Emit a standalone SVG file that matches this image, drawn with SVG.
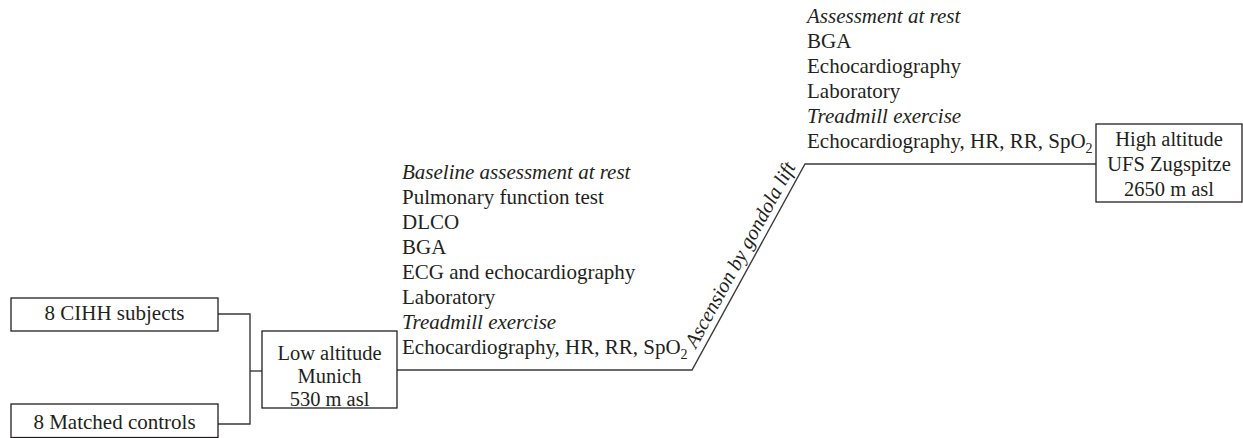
<svg xmlns="http://www.w3.org/2000/svg" width="1243" height="438" viewBox="0 0 1243 438">
<style>
text{font-family:"Liberation Serif","Times New Roman",serif;font-size:21px;fill:#231f20}
.c{text-anchor:middle}
.i{font-style:italic}
.b{font-size:20.5px}
.box{fill:#fff;stroke:#231f20;stroke-width:1.3}
.ln{fill:none;stroke:#3a3a3a;stroke-width:1.4}
</style>
<rect width="1243" height="438" fill="#fff"/>
<g id="connectors">
<polyline class="ln" points="218,314 250,314 250,424 218,424"/>
<line class="ln" x1="250" y1="371" x2="262" y2="371"/>
<polyline class="ln" points="397,370 692,370 805,164 1096,164"/>
<text class="i b" transform="translate(696,349) rotate(-61.25)">Ascension by gondola lift</text>
</g>
<g id="cihh">
<rect class="box" x="11" y="298" width="207" height="33"/>
<text class="c" x="114.5" y="320">8 CIHH subjects</text>
</g>
<g id="controls">
<rect class="box" x="11" y="404" width="207" height="33.5"/>
<text class="c" x="114.5" y="429">8 Matched controls</text>
</g>
<g id="low">
<rect class="box" x="262" y="331" width="135" height="77"/>
<text class="c b" x="329.5" y="360">Low altitude</text>
<text class="c b" x="329.5" y="383">Munich</text>
<text class="c b" x="329.5" y="406">530 m asl</text>
</g>
<g id="low-assessments">
<text class="i" x="402" y="179">Baseline assessment at rest</text>
<text x="402" y="204">Pulmonary function test</text>
<text x="402" y="229">DLCO</text>
<text x="402" y="254">BGA</text>
<text x="402" y="279">ECG and echocardiography</text>
<text x="402" y="304">Laboratory</text>
<text class="i" x="402" y="329">Treadmill exercise</text>
<text x="402" y="354">Echocardiography, HR, RR, SpO<tspan font-size="14" dy="5">2</tspan></text>
</g>
<g id="high-assessments">
<text class="i" x="807" y="23">Assessment at rest</text>
<text x="807" y="48">BGA</text>
<text x="807" y="73">Echocardiography</text>
<text x="807" y="98">Laboratory</text>
<text class="i" x="807" y="123">Treadmill exercise</text>
<text x="807" y="148">Echocardiography, HR, RR, SpO<tspan font-size="14" dy="5">2</tspan></text>
</g>
<g id="high">
<rect class="box" x="1096" y="124" width="146" height="78"/>
<text class="c b" x="1169" y="146">High altitude</text>
<text class="c b" x="1169" y="171">UFS Zugspitze</text>
<text class="c b" x="1169" y="196">2650 m asl</text>
</g>
</svg>
